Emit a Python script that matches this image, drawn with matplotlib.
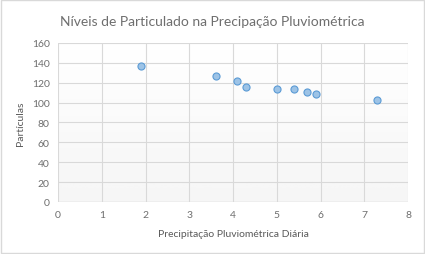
import numpy as np
import matplotlib.pyplot as plt
from matplotlib.patches import Rectangle

# data
chuva = [1.9, 3.6, 4.1, 4.3, 5.0, 5.4, 5.7, 5.9, 7.3]
particulas = [137, 127, 122, 116, 114, 114, 111, 109, 103]
xticks = [0, 1, 2, 3, 4, 5, 6, 7, 8]
yticks = [0, 20, 40, 60, 80, 100, 120, 140, 160]

plt.rcParams['font.family'] = ['Lato', 'DejaVu Sans']

fig = plt.figure(figsize=(4.25, 2.55), dpi=100)
fig.patches.append(Rectangle((0.002, 0.004), 0.995, 0.992, transform=fig.transFigure,
                             fill=False, edgecolor="#d9d9d9", linewidth=1))
ax = fig.add_axes([0.1365, 0.204, 0.8235, 0.6235])

# gradient background (white at top to light grey at bottom)
grad = np.linspace(1, 0, 256).reshape(-1, 1)
ax.imshow(grad, extent=[0, 8, 0, 160], aspect="auto", cmap="Greys_r",
          vmin=-12, vmax=1, zorder=0, origin="upper")

ax.scatter(chuva, particulas, s=26, color="#9dc3e6", edgecolor="#5b9bd5",
           linewidth=0.8, zorder=3)

ax.set_xlim(0, 8)
ax.set_ylim(0, 160)
ax.set_xticks(xticks)
ax.set_yticks(yticks)
ax.grid(True, color="#d9d9d9", linewidth=0.8, zorder=1)
ax.set_axisbelow(True)
for s in ax.spines.values():
    s.set_visible(False)
ax.axhline(0, color="#d9d9d9", linewidth=1, zorder=2)
ax.tick_params(length=0, labelsize=7.5, labelcolor="#6e6e6e", pad=6)

ax.set_xlabel("Precipitação Pluviométrica Diária", fontsize=7.5, color="#595959", labelpad=7)
ax.set_ylabel("Partículas", fontsize=7.5, color="#595959", labelpad=5)
fig.text(0.5, 0.915, "Níveis de Particulado na Precipação Pluviométrica",
         ha="center", va="center", fontsize=10.0, color="#6e6e6e")

fig.savefig("out.png", dpi=100)
